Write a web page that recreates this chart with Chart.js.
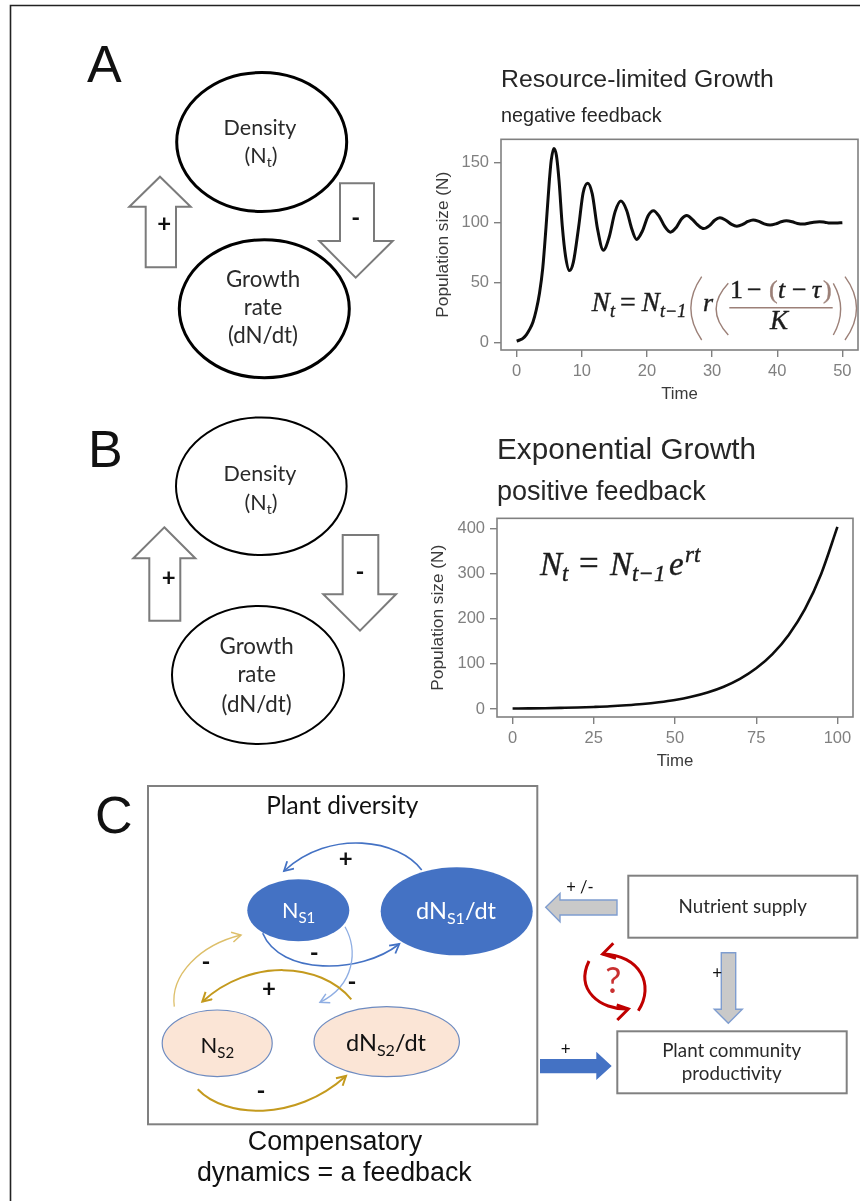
<!DOCTYPE html>
<html>
<head>
<meta charset="utf-8">
<title>Feedback and growth</title>
<script src="https://cdn.jsdelivr.net/npm/chart.js@4"></script>
<style>
  html, body { margin: 0; padding: 0; background: #fff; overflow: hidden; }
  #page { position: relative; width: 860px; height: 1201px; background: #fff; filter: blur(0.4px); }
  canvas { position: absolute; }
  #chartA { left: 430px; top: 60px; }
  #chartB { left: 425px; top: 425px; }
  svg { position: absolute; left: 0; top: 0; pointer-events: none; }
  .lato { font-family: Lato, sans-serif; fill: #2a2a2a; text-anchor: middle; }
  .sign { font-family: Lato, sans-serif; fill: #111; text-anchor: middle; font-weight: 700; }
  .helv { font-family: "Liberation Sans", Arial, sans-serif; fill: #111; }
  .math { font-family: "Liberation Serif", serif; font-style: italic; fill: #1c1c1c; stroke: #1c1c1c; stroke-width: .4; }
  .mathUp { font-family: "Liberation Serif", serif; fill: #1c1c1c; stroke: #1c1c1c; stroke-width: .4; }
  .arrowOut { fill: #fff; stroke: #7b7b7b; stroke-width: 2; }
  .boxOut { fill: #fff; stroke: #808080; stroke-width: 2; }
</style>
</head>
<body>
<div id="page">
  <canvas id="chartA" width="430" height="350"></canvas>
  <canvas id="chartB" width="435" height="347"></canvas>

  <svg width="860" height="1201" viewBox="0 0 860 1201">
    <defs>
      <marker id="headBlue" markerUnits="userSpaceOnUse" markerWidth="14" markerHeight="14" refX="10" refY="6" orient="auto">
        <path d="M1,1 L10,6 L1,11" fill="none" stroke="#4472C4" stroke-width="1.8"/>
      </marker>
      <marker id="headPaleBlue" markerUnits="userSpaceOnUse" markerWidth="14" markerHeight="14" refX="10" refY="6" orient="auto">
        <path d="M1,1 L10,6 L1,11" fill="none" stroke="#8FAEE3" stroke-width="1.5"/>
      </marker>
      <marker id="headGold" markerUnits="userSpaceOnUse" markerWidth="14" markerHeight="14" refX="10" refY="6" orient="auto">
        <path d="M1,1 L10,6 L1,11" fill="none" stroke="#C49A1E" stroke-width="2"/>
      </marker>
      <marker id="headPaleGold" markerUnits="userSpaceOnUse" markerWidth="14" markerHeight="14" refX="10" refY="6" orient="auto">
        <path d="M1,1 L10,6 L1,11" fill="none" stroke="#DDBF6A" stroke-width="1.5"/>
      </marker>
    </defs>

    <!-- frame -->
    <path d="M10.5 1201 V5.5 H860" fill="none" stroke="#222" stroke-width="1.6"/>

    <!-- ── Panel A ─────────────────────────── -->
    <text class="helv" x="87" y="82" font-size="52">A</text>
    <ellipse cx="261.7" cy="142" rx="85" ry="69.5" fill="#fff" stroke="#000" stroke-width="3"/>
    <ellipse cx="264.3" cy="308.7" rx="85" ry="69" fill="#fff" stroke="#000" stroke-width="3"/>
    <polygon class="arrowOut" points="160,176.7 190.7,206.7 176,206.7 176,267.3 145.7,267.3 145.7,206.7 129.3,206.7"/>
    <polygon class="arrowOut" points="340,183.3 374,183.3 374,241 392.7,241 355.7,277.7 319.3,241 340,241"/>
    <text class="sign" x="164.3" y="232" font-size="24">+</text>
    <text class="sign" x="355.7" y="226" font-size="24">-</text>
    <text class="lato" x="260" y="135" font-size="21.5">Density</text>
    <text class="lato" x="261" y="163" font-size="21.5">(N<tspan font-size="14" dy="4">t</tspan><tspan dy="-4">)</tspan></text>
    <text class="lato" x="263" y="287" font-size="22.3">Growth</text>
    <text class="lato" x="263" y="315" font-size="22.3">rate</text>
    <text class="lato" x="263" y="343" font-size="22.3">(dN/dt)</text>

    <!-- formula A -->
    <text class="math" x="591.7" y="310.7" font-size="27">N</text>
    <text class="math" x="610" y="316.7" font-size="18">t</text>
    <text class="mathUp" x="620" y="310.7" font-size="28">=</text>
    <text class="math" x="641.7" y="310.7" font-size="27">N</text>
    <text class="math" x="660" y="316.7" font-size="18">t−1</text>
    <path d="M701.7 276.7 Q680 308 701.7 340" fill="none" stroke="#9C8078" stroke-width="1.4"/>
    <text class="math" x="703" y="310.7" font-size="26">r</text>
    <path d="M728.3 283.3 Q704 309 728.3 335" fill="none" stroke="#9C8078" stroke-width="1.4"/>
    <text class="mathUp" x="730" y="298.3" font-size="26">1</text>
    <text class="mathUp" x="747" y="298.3" font-size="26">−</text>
    <text class="mathUp" x="769" y="298.3" font-size="26" style="fill:#9C8078;stroke:#9C8078">(</text>
    <text class="math" x="778" y="298.3" font-size="26">t</text>
    <text class="mathUp" x="792" y="298.3" font-size="26">−</text>
    <text class="math" x="811.7" y="298.3" font-size="26">τ</text>
    <text class="mathUp" x="823" y="298.3" font-size="26" style="fill:#9C8078;stroke:#9C8078">)</text>
    <path d="M729.3 307.7 H832.7" stroke="#9C8078" stroke-width="1.6"/>
    <text class="math" x="770" y="329.3" font-size="27">K</text>
    <path d="M833.3 283.3 Q848 309 833.3 335" fill="none" stroke="#9C8078" stroke-width="1.4"/>
    <path d="M845 276.7 Q868 308 845 340" fill="none" stroke="#9C8078" stroke-width="1.4"/>

    <!-- ── Panel B ─────────────────────────── -->
    <text class="helv" x="88" y="466.7" font-size="52">B</text>
    <ellipse cx="261.3" cy="486.2" rx="85.3" ry="68.8" fill="#fff" stroke="#000" stroke-width="2"/>
    <ellipse cx="258" cy="675" rx="86" ry="69" fill="#fff" stroke="#000" stroke-width="2"/>
    <polygon class="arrowOut" points="164.3,527.3 195.3,558.3 180.3,558.3 180.3,620.7 149.3,620.7 149.3,558.3 133.3,558.3"/>
    <polygon class="arrowOut" points="342.7,535 378.3,535 378.3,594.3 396,594.3 360,630.7 323.3,594.3 342.7,594.3"/>
    <text class="sign" x="168.7" y="585.5" font-size="24">+</text>
    <text class="sign" x="360" y="579.5" font-size="24">-</text>
    <text class="lato" x="260" y="480.7" font-size="21.5">Density</text>
    <text class="lato" x="261" y="510" font-size="21.5">(N<tspan font-size="14" dy="4">t</tspan><tspan dy="-4">)</tspan></text>
    <text class="lato" x="256.7" y="654" font-size="22.3">Growth</text>
    <text class="lato" x="256.7" y="682" font-size="22.3">rate</text>
    <text class="lato" x="256.7" y="711.7" font-size="22.3">(dN/dt)</text>

    <!-- formula B -->
    <text class="math" x="540" y="575" font-size="33">N</text>
    <text class="math" x="562" y="581" font-size="23">t</text>
    <text class="mathUp" x="579" y="575" font-size="35">=</text>
    <text class="math" x="610" y="575" font-size="33">N</text>
    <text class="math" x="632" y="581" font-size="23">t−1</text>
    <text class="math" x="669" y="575" font-size="33">e</text>
    <text class="math" x="685" y="561.7" font-size="23">rt</text>

    <!-- ── Panel C ─────────────────────────── -->
    <text class="helv" x="95" y="833" font-size="52">C</text>
    <rect class="boxOut" x="148" y="786" width="389.3" height="338.3"/>
    <text class="lato" x="342.3" y="814.3" font-size="24.4" style="fill:#111">Plant diversity</text>

    <ellipse cx="298.3" cy="910.3" rx="51" ry="31" fill="#4472C4"/>
    <ellipse cx="456.7" cy="911.3" rx="76" ry="44" fill="#4472C4"/>
    <ellipse cx="217.2" cy="1043.3" rx="55" ry="33.3" fill="#FBE5D6" stroke="#6E8BC0" stroke-width="1.2"/>
    <ellipse cx="386.7" cy="1041.7" rx="72.7" ry="35" fill="#FBE5D6" stroke="#6E8BC0" stroke-width="1.2"/>

    <path d="M421.7 870 C400 840 330 828 284 871" fill="none" stroke="#4472C4" stroke-width="1.6" marker-end="url(#headBlue)"/>
    <path d="M262.7 933.3 C280 975 360 975 399.3 944" fill="none" stroke="#4472C4" stroke-width="1.6" marker-end="url(#headBlue)"/>
    <path d="M345 926.7 C358 950 355 985 320 1002.3" fill="none" stroke="#8FAEE3" stroke-width="1.3" marker-end="url(#headPaleBlue)"/>
    <path d="M174.3 1006.7 C170 975 200 945 241 935" fill="none" stroke="#DDBF6A" stroke-width="1.3" marker-end="url(#headPaleGold)"/>
    <path d="M351.3 999.3 C320 962 250 958 202.3 1001.7" fill="none" stroke="#C49A1E" stroke-width="2" marker-end="url(#headGold)"/>
    <path d="M197.7 1089.3 C225 1118 295 1122 346 1076" fill="none" stroke="#C49A1E" stroke-width="2" marker-end="url(#headGold)"/>

    <text class="sign" x="345.7" y="867" font-size="24">+</text>
    <text class="sign" x="314.3" y="961" font-size="24">-</text>
    <text class="sign" x="206" y="970" font-size="24">-</text>
    <text class="sign" x="269" y="996.5" font-size="24">+</text>
    <text class="sign" x="352" y="990" font-size="24">-</text>
    <text class="sign" x="261" y="1099" font-size="24">-</text>

    <text class="lato" x="298.7" y="918" font-size="21.5" style="fill:#fff">N<tspan font-size="15" dy="5">S1</tspan></text>
    <text class="lato" x="456" y="919.3" font-size="23.5" style="fill:#fff">dN<tspan font-size="16" dy="5">S1</tspan><tspan dy="-5">/dt</tspan></text>
    <text class="lato" x="217.3" y="1052.7" font-size="22" style="fill:#111">N<tspan font-size="15" dy="5">S2</tspan></text>
    <text class="lato" x="386" y="1050.7" font-size="23.5" style="fill:#111">dN<tspan font-size="16" dy="5">S2</tspan><tspan dy="-5">/dt</tspan></text>

    <text class="helv" x="335" y="1150" font-size="26.8" text-anchor="middle">Compensatory</text>
    <text class="helv" x="334.3" y="1181" font-size="26.8" text-anchor="middle">dynamics = a feedback</text>

    <rect class="boxOut" x="628.3" y="875.7" width="229" height="62"/>
    <text class="lato" x="742.7" y="913.3" font-size="18.8">Nutrient supply</text>
    <rect class="boxOut" x="617.3" y="1031.3" width="229.4" height="62"/>
    <text class="lato" x="731.7" y="1056.7" font-size="18.8">Plant community</text>
    <text class="lato" x="731.7" y="1080" font-size="18.8">productivity</text>

    <polygon points="617,900 617,915 560,915 560,921.7 545.7,907.3 560,893.3 560,900" fill="#C9C9C9" stroke="#7F9DCF" stroke-width="1.4"/>
    <text class="lato" x="580" y="893" font-size="16.5" style="fill:#111">+ /-</text>
    <polygon points="721.3,952.7 735.7,952.7 735.7,1009.3 742.3,1009.3 728.3,1023.3 714.3,1009.3 721.3,1009.3" fill="#C9C9C9" stroke="#7F9DCF" stroke-width="1.4"/>
    <text class="sign" x="717.3" y="978.5" font-size="17" style="font-weight:400">+</text>
    <polygon points="540,1059 596.3,1059 596.3,1051.7 611.7,1066 596.3,1080 596.3,1073.3 540,1073.3" fill="#4472C4"/>
    <text class="sign" x="565.7" y="1055" font-size="17" style="font-weight:400">+</text>

    <!-- red cycle -->
    <g fill="none" stroke="#C00000" stroke-width="3">
      <path d="M589 961 C575 990 600 1010 628.3 1009"/>
      <path d="M616.7 1005 L628.3 1009 L617.3 1020"/>
      <path d="M638.3 1010.7 C655 985 640 955 602.7 954"/>
      <path d="M613.3 943.3 L602.7 954 L616 958.3"/>
    </g>
    <text class="lato" x="613.3" y="993.3" font-size="36" style="fill:#C93030">?</text>
  </svg>
</div>

<script>
// ── Chart data ─────────────────────────────────
const timeA = [0, 0.5, 1, 1.5, 2, 2.5, 3, 3.5, 4, 4.5, 5, 5.3, 5.7, 6.1, 6.5, 7, 7.5, 8.1, 8.7, 9.5,
    10.2, 10.9, 11.6, 12.4, 13.3, 14.2, 15.1, 16, 16.9, 17.6, 18.4, 19.3, 20.2, 21, 21.9, 22.7, 23.6,
    24.5, 25.3, 26.1, 27, 27.8, 28.7, 29.6, 30.4, 31.2, 32.1, 33, 33.8, 34.7, 35.5, 36.3, 37.2, 38,
    38.9, 39.8, 40.6, 41.4, 42.3, 43.1, 44, 44.8, 45.6, 46.5, 47.3, 48.1, 49, 50];
const sizeA = [1, 2, 3.5, 6.5, 11, 17, 27, 41, 62, 96, 134, 152, 162, 156, 135, 97, 72, 60, 67, 96,
    125, 133, 124, 95, 77, 88, 109, 118, 110, 96, 86, 93, 106, 110, 105, 97, 92,
    96, 103, 106, 102.5, 98, 95, 97.5, 102, 104, 102, 98.5, 97, 98.5, 101, 102.3, 101, 99,
    98, 99, 100.7, 101.5, 100.7, 99.3, 98.8, 99.5, 100.4, 100.8, 100.3, 99.6, 99.7, 100];

const timeB = [0, 5, 10, 15, 20, 25, 30, 35, 40, 45, 50, 55, 60, 65, 70, 75, 80, 85, 90, 95, 100];
const sizeB = [1, 1.35, 1.8, 2.5, 3.3, 4.5, 6, 8.2, 11, 14.9, 20, 27.1, 36.6, 49.4, 66.7, 90, 121.5, 164, 221, 299, 403];

const xTicksA = [0, 10, 20, 30, 40, 50];
const yTicksA = [0, 50, 100, 150];
const xTicksB = [0, 25, 50, 75, 100];
const yTicksB = [0, 100, 200, 300, 400];

const SANS = '"Liberation Sans", Arial, sans-serif';
const GRIS = '#808080';

// Marco completo alrededor del area del grafico
const plotBox = {
    id: 'plotBox',
    afterDatasetsDraw(chart) {
        const { ctx, chartArea: a } = chart;
        ctx.save();
        ctx.strokeStyle = GRIS;
        ctx.lineWidth = 1.6;
        ctx.strokeRect(a.left, a.top, a.right - a.left, a.bottom - a.top);
        ctx.restore();
    }
};

function crearGrafico(id, cfg) {
    const eje = (ticks, min, max, size, title, titleSize, titlePadding) => ({
        type: 'linear',
        min, max,
        afterBuildTicks: s => { s.ticks = ticks.map(v => ({ value: v })); },
        afterFit: s => { if (s.isHorizontal()) s.height = size; else s.width = size; },
        grid: { display: true, drawOnChartArea: false, drawTicks: true, tickLength: 7, color: GRIS, lineWidth: 1.4 },
        border: { display: false },
        ticks: { color: GRIS, padding: 5, maxRotation: 0, font: { family: SANS, size: 16.5 } },
        title: { display: true, text: title, color: '#3a3a3a', padding: titlePadding, font: { family: SANS, size: titleSize } }
    });

    return new Chart(document.getElementById(id), {
        type: 'line',
        data: {
            datasets: [{
                data: cfg.xs.map((x, i) => ({ x, y: cfg.ys[i] })),
                borderColor: '#0d0d0d',
                borderWidth: cfg.lineWidth,
                pointRadius: 0,
                fill: false,
                cubicInterpolationMode: 'monotone'
            }]
        },
        options: {
            responsive: false,
            animation: false,
            devicePixelRatio: 1,
            layout: { padding: { right: cfg.right } },
            plugins: {
                legend: { display: false },
                tooltip: { enabled: false },
                title: {
                    display: true, text: cfg.title, align: 'start', fullSize: false, color: '#262626',
                    padding: cfg.titlePadding, font: { family: SANS, size: cfg.titleSize, weight: 'normal' }
                },
                subtitle: {
                    display: true, text: cfg.subtitle, align: 'start', fullSize: false, color: '#262626',
                    padding: cfg.subPadding, font: { family: SANS, size: cfg.subSize, weight: 'normal' }
                }
            },
            scales: {
                x: eje(cfg.xTicks, cfg.xMin, cfg.xMax, cfg.xHeight, 'Time', 16.8, { top: 0, bottom: cfg.timeBottom }),
                y: eje(cfg.yTicks, cfg.yMin, cfg.yMax, cfg.yWidth, 'Population size (N)', 17.3, { top: 3, bottom: 0 })
            }
        },
        plugins: [plotBox]
    });
}

crearGrafico('chartA', {
    xs: timeA, ys: sizeA, xTicks: xTicksA, yTicks: yTicksA,
    xMin: -2.41, xMax: 52.4, yMin: -6.4, yMax: 169.6,
    xHeight: 60, yWidth: 71, right: 2, lineWidth: 3, timeBottom: 6,
    title: 'Resource-limited Growth', titleSize: 24.8, titlePadding: { top: 5, bottom: 0 },
    subtitle: 'negative feedback', subSize: 19.8, subPadding: { top: 10, bottom: 10.8 }
});

crearGrafico('chartB', {
    xs: timeB, ys: sizeB, xTicks: xTicksB, yTicks: yTicksB,
    xMin: -4.8, xMax: 104.8, yMin: -17.7, yMax: 422,
    xHeight: 55, yWidth: 72, right: 7, lineWidth: 2.6, timeBottom: 1,
    title: 'Exponential Growth', titleSize: 29.7, titlePadding: { top: 7.5, bottom: 0 },
    subtitle: 'positive feedback', subSize: 27, subPadding: { top: 8, bottom: 9.8 }
});
</script>
</body>
</html>
